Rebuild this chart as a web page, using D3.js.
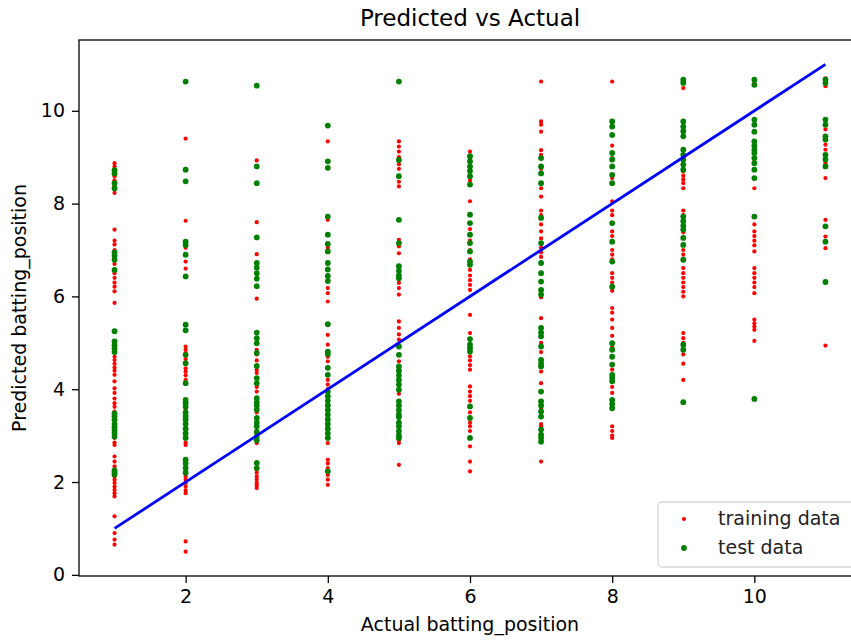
<!DOCTYPE html>
<html lang="en">
<head>
    <meta charset="UTF-8">
    <script src="https://cdnjs.cloudflare.com/ajax/libs/d3/7.8.5/d3.min.js"></script>
    <style>
        body { margin: 0; background: #fff; }
        svg { font-family: "DejaVu Sans", sans-serif; }
    </style>
</head>
<body>
<svg id="chart" width="851" height="641"></svg>
<script>
    // actual batting position of each column
    const positions = [1, 2, 3, 4, 5, 6, 7, 8, 9, 10, 11];

    // predicted values, training data (one list per actual position)
    const trainPred = [
        [8.87, 8.80, 8.75, 8.59, 8.50, 8.38, 8.23, 7.44, 7.20, 7.12, 7.00, 6.85, 6.70, 6.50, 6.40, 6.30, 6.21, 6.11, 5.86, 4.85, 4.70, 4.63, 4.55, 4.47, 4.40, 4.31, 4.17, 4.02, 3.92, 3.80, 3.70, 3.62, 3.52, 3.40, 3.10, 2.95, 2.85, 2.80, 2.55, 2.44, 2.34, 2.12, 2.05, 1.98, 1.90, 1.83, 1.76, 1.69, 1.26, 0.90, 0.76, 0.65],
        [9.40, 8.75, 7.63, 7.05, 6.90, 6.75, 6.60, 4.92, 4.85, 4.78, 4.65, 4.45, 4.38, 4.30, 4.20, 3.70, 3.55, 3.40, 3.28, 3.15, 3.02, 2.85, 2.80, 2.12, 2.05, 1.98, 1.90, 1.82, 1.76, 0.72, 0.50],
        [8.93, 7.60, 6.91, 6.40, 5.95, 4.85, 4.75, 4.62, 4.50, 4.42, 4.35, 4.05, 3.95, 3.50, 3.30, 3.22, 3.10, 3.00, 2.90, 2.84, 2.26, 2.20, 2.12, 2.05, 1.98, 1.93, 1.87],
        [9.34, 7.65, 7.05, 6.18, 6.07, 5.89, 5.17, 4.96, 4.70, 4.60, 4.20, 4.10, 4.00, 3.60, 3.35, 3.20, 3.05, 2.84, 2.48, 2.40, 2.30, 2.15, 2.05, 1.94],
        [9.34, 9.23, 9.12, 9.00, 8.85, 8.75, 8.47, 8.37, 7.22, 7.08, 6.93, 6.29, 6.18, 6.04, 5.46, 5.32, 5.18, 5.07, 4.60, 4.10, 3.90, 3.50, 3.30, 3.05, 2.90, 2.84, 2.37],
        [9.12, 8.95, 8.70, 8.50, 8.05, 7.45, 7.20, 7.00, 6.80, 6.57, 6.45, 6.35, 6.25, 6.14, 5.60, 5.21, 4.71, 4.62, 4.52, 4.42, 4.06, 3.95, 3.85, 3.75, 3.50, 3.28, 3.20, 3.10, 2.77, 2.44, 2.23],
        [10.63, 9.77, 9.70, 9.55, 9.15, 9.05, 8.75, 8.33, 8.15, 7.85, 7.75, 7.55, 7.40, 7.25, 7.05, 6.95, 6.85, 6.05, 5.98, 5.53, 5.00, 4.80, 4.38, 4.13, 3.60, 3.50, 3.25, 3.20, 2.44],
        [10.63, 9.25, 8.98, 8.80, 8.55, 8.05, 7.85, 7.75, 7.40, 7.30, 7.00, 6.90, 6.80, 6.50, 6.40, 6.30, 6.12, 5.75, 5.65, 5.50, 5.32, 5.15, 4.90, 4.42, 4.05, 3.92, 3.68, 3.20, 3.10, 3.00, 2.95],
        [10.49, 9.75, 9.60, 9.00, 8.69, 8.60, 8.52, 8.44, 8.33, 7.85, 7.75, 7.38, 7.00, 6.90, 6.61, 6.50, 6.40, 6.30, 6.20, 6.10, 6.00, 5.21, 5.10, 5.00, 4.75, 4.55, 4.20],
        [10.60, 9.70, 9.20, 8.90, 8.33, 7.55, 7.40, 7.30, 7.20, 7.10, 6.97, 6.61, 6.50, 6.40, 6.30, 6.20, 6.07, 5.50, 5.42, 5.35, 5.28, 5.04],
        [10.70, 10.53, 9.60, 9.27, 9.16, 8.87, 8.55, 7.65, 7.29, 7.04, 4.94]
    ];

    // predicted values, test data
    const testPred = [
        [8.72, 8.65, 8.44, 8.33, 6.95, 6.88, 6.79, 6.57, 5.25, 5.03, 4.95, 4.88, 4.80, 3.48, 3.42, 3.35, 3.25, 3.18, 3.12, 3.05, 2.98, 2.25, 2.20, 2.16],
        [10.63, 8.73, 8.48, 7.18, 7.11, 6.90, 6.43, 5.39, 5.27, 4.74, 4.56, 4.13, 3.77, 3.70, 3.62, 3.50, 3.42, 3.35, 3.25, 3.15, 3.05, 2.95, 2.48, 2.40, 2.30, 2.20],
        [10.54, 8.80, 8.44, 7.27, 6.72, 6.62, 6.50, 6.38, 6.22, 5.22, 5.10, 4.99, 4.78, 4.50, 4.24, 4.13, 3.81, 3.72, 3.65, 3.56, 3.38, 3.28, 3.20, 3.08, 2.98, 2.90, 2.41, 2.30],
        [9.68, 8.91, 8.77, 7.72, 7.33, 7.13, 6.97, 6.72, 6.58, 6.44, 6.33, 5.40, 4.81, 4.76, 4.46, 4.31, 3.95, 3.85, 3.75, 3.65, 3.55, 3.45, 3.35, 3.25, 3.15, 3.05, 2.95, 2.23],
        [10.63, 8.94, 8.59, 7.65, 7.15, 6.65, 6.55, 6.45, 6.39, 4.92, 4.74, 4.49, 4.40, 4.30, 4.20, 4.10, 3.99, 3.74, 3.65, 3.55, 3.45, 3.40, 3.28, 3.20, 3.10, 3.00, 2.95],
        [9.02, 8.91, 8.80, 8.70, 8.59, 8.41, 7.76, 7.58, 7.33, 7.15, 6.97, 6.75, 6.68, 5.08, 4.96, 4.88, 4.81, 3.63, 3.38, 2.95],
        [8.98, 8.80, 8.65, 8.44, 7.69, 7.15, 6.72, 6.50, 6.32, 6.14, 6.04, 5.32, 5.22, 5.14, 4.92, 4.63, 4.55, 4.49, 3.95, 3.74, 3.65, 3.52, 3.41, 3.13, 3.02, 2.95, 2.87],
        [9.77, 9.66, 9.48, 9.09, 8.95, 8.80, 8.62, 8.44, 7.58, 7.18, 6.75, 6.21, 4.99, 4.85, 4.70, 4.53, 4.31, 4.24, 4.17, 3.77, 3.68, 3.59],
        [10.67, 10.60, 9.77, 9.66, 9.56, 9.45, 9.16, 9.05, 8.95, 8.84, 8.73, 7.72, 7.62, 7.52, 7.44, 7.26, 7.11, 6.79, 4.96, 4.85, 3.72],
        [10.67, 10.56, 9.81, 9.70, 9.55, 9.34, 9.25, 9.16, 9.09, 8.98, 8.87, 8.73, 8.55, 7.72, 3.79],
        [10.67, 10.60, 9.81, 9.70, 9.45, 9.38, 9.05, 8.95, 8.80, 7.51, 7.18, 6.31]
    ];

    // ideal line y = x
    const fitLine = [[1, 1], [11, 11]];

    const xTicks = [2, 4, 6, 8, 10];
    const yTicks = [0, 2, 4, 6, 8, 10];

    const svg = d3.select('#chart');
    const plotL = 79, plotR = 861, plotT = 40, plotB = 576;
    const fontSize = '19px';

    const xScale = d3.scaleLinear().domain([0.5, 11.5]).range([plotL, plotR]);
    const yScale = d3.scaleLinear().domain([-0.025, 11.525]).range([plotB, plotT]);

    const flat = (arr) => arr.flatMap((vals, i) => vals.map(v => ({x: positions[i], y: v})));

    const plot = svg.append('g');

    plot.selectAll('circle.train')
        .data(flat(trainPred)).enter()
        .append('circle')
        .attr('class', 'train')
        .attr('cx', d => xScale(d.x))
        .attr('cy', d => yScale(d.y))
        .attr('r', 2.1)
        .style('fill', '#ff0000');

    plot.selectAll('circle.test')
        .data(flat(testPred)).enter()
        .append('circle')
        .attr('class', 'test')
        .attr('cx', d => xScale(d.x))
        .attr('cy', d => yScale(d.y))
        .attr('r', 2.9)
        .style('fill', '#008000');

    const line = d3.line().x(d => xScale(d[0])).y(d => yScale(d[1]));
    plot.append('path')
        .attr('d', line(fitLine))
        .style('fill', 'none')
        .style('stroke', '#0000ff')
        .style('stroke-width', 2.8);

    // axes
    const xAxis = svg.append('g')
        .attr('transform', `translate(0,${plotB})`)
        .call(d3.axisBottom(xScale).tickValues(xTicks).tickSize(7).tickPadding(7).tickSizeOuter(0));
    const yAxis = svg.append('g')
        .attr('transform', `translate(${plotL},0)`)
        .call(d3.axisLeft(yScale).tickValues(yTicks).tickSize(7).tickPadding(7).tickSizeOuter(0));

    [xAxis, yAxis].forEach(g => {
        g.select('.domain').remove();
        g.selectAll('.tick line').style('stroke', '#000').style('stroke-width', 1.3);
        g.selectAll('.tick text').style('font-size', fontSize).style('fill', '#000')
            .style('font-family', '"DejaVu Sans", sans-serif');
    });

    // frame (right spine falls outside the picture)
    svg.append('rect')
        .attr('x', plotL).attr('y', plotT)
        .attr('width', plotR - plotL).attr('height', plotB - plotT)
        .style('fill', 'none').style('stroke', '#000').style('stroke-width', 1.3);

    // titles
    svg.append('text')
        .attr('x', (plotL + plotR) / 2).attr('y', 26)
        .attr('text-anchor', 'middle')
        .style('font-size', '23px')
        .text('Predicted vs Actual');

    svg.append('text')
        .attr('x', (plotL + plotR) / 2).attr('y', 631)
        .attr('text-anchor', 'middle')
        .style('font-size', fontSize)
        .text('Actual batting_position');

    svg.append('text')
        .attr('transform', `translate(26,${(plotT + plotB) / 2}) rotate(-90)`)
        .attr('text-anchor', 'middle')
        .style('font-size', fontSize)
        .text('Predicted batting_position');

    // legend
    const legend = svg.append('g').attr('transform', 'translate(658,502)');
    legend.append('rect')
        .attr('width', 220).attr('height', 65).attr('rx', 4)
        .style('fill', '#fff').style('stroke', '#d6d6d6').style('stroke-width', 1.3);

    const legendItems = [
        {label: 'training data', color: '#ff0000', r: 2.1},
        {label: 'test data', color: '#008000', r: 2.9}
    ];
    legendItems.forEach((item, i) => {
        legend.append('circle')
            .attr('cx', 26).attr('cy', 17 + i * 29)
            .attr('r', item.r).style('fill', item.color);
        legend.append('text')
            .attr('x', 60).attr('y', 23 + i * 29)
            .style('font-size', fontSize)
            .style('fill', '#222')
            .text(item.label);
    });
</script>
</body>
</html>
